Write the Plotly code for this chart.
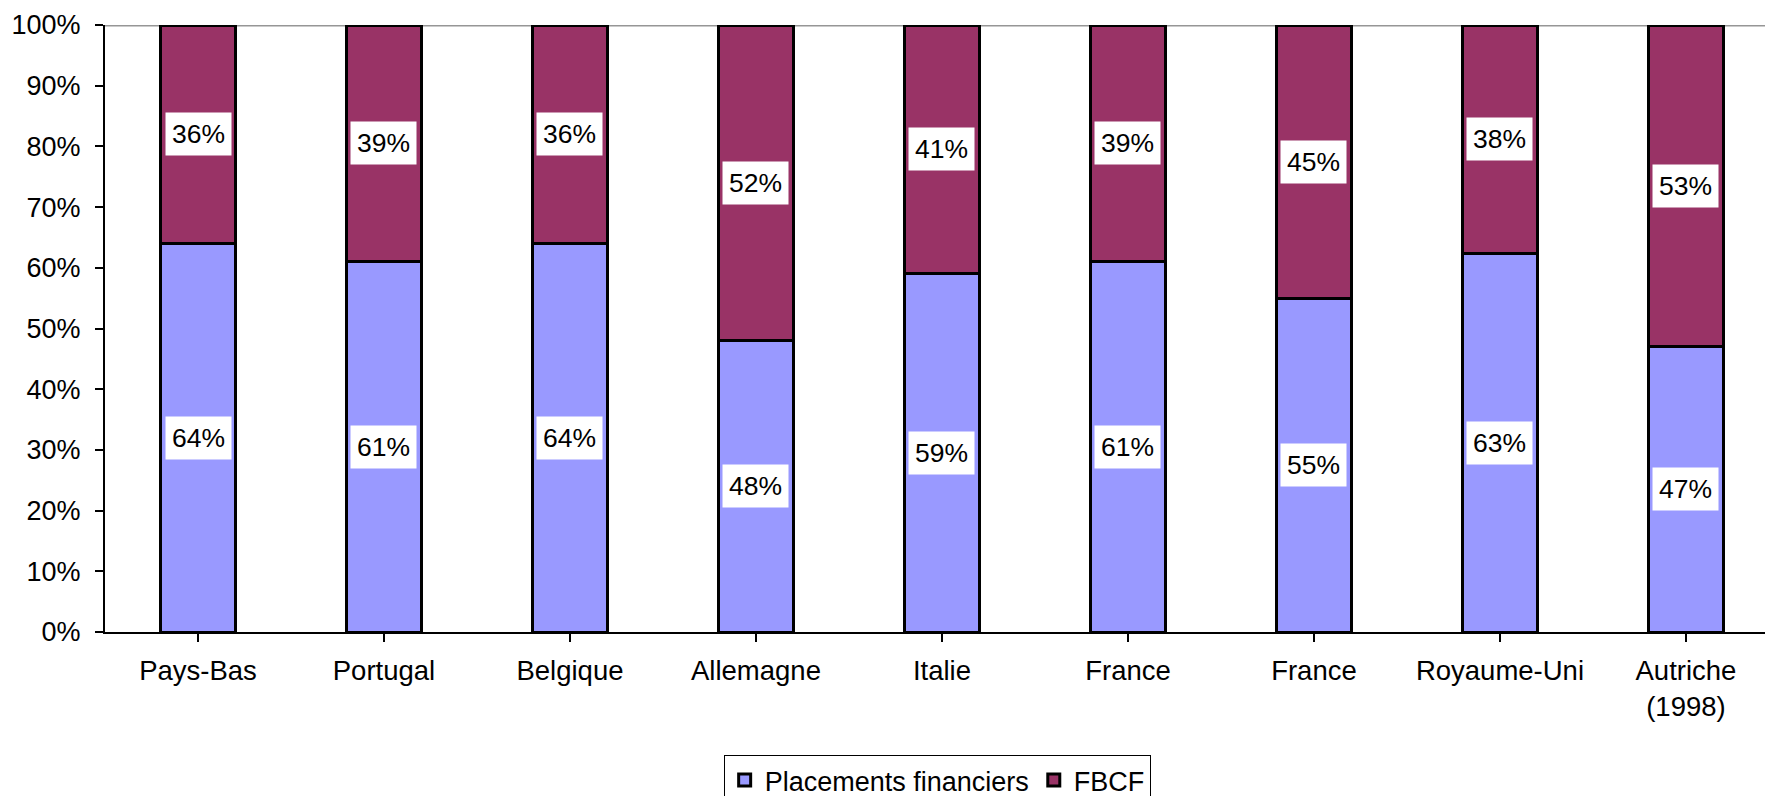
import plotly.graph_objects as go

# Share of financial investments vs. gross fixed capital formation (FBCF)
categories = ["Pays-Bas", "Portugal", "Belgique", "Allemagne", "Italie",
              "France", "France", "Royaume-Uni", "Autriche<br>(1998)"]
placements = [64, 61, 64, 48, 59, 61, 55, 63, 47]
fbcf = [36, 39, 36, 52, 41, 39, 45, 38, 53]
y_ticks = [0, 10, 20, 30, 40, 50, 60, 70, 80, 90, 100]
y_tick_labels = ["0%", "10%", "20%", "30%", "40%", "50%",
                 "60%", "70%", "80%", "90%", "100%"]

FONT = "Liberation Sans, Arial, sans-serif"
BLUE = "#9999FF"
PLUM = "#993366"

x_idx = list(range(len(categories)))

fig = go.Figure()
fig.add_trace(go.Bar(
    x=x_idx, y=placements, name="Placements financiers",
    marker=dict(color=BLUE, line=dict(color="black", width=3)),
    width=0.405,
))
fig.add_trace(go.Bar(
    x=x_idx, y=fbcf, name="FBCF",
    marker=dict(color=PLUM, line=dict(color="black", width=3)),
    width=0.405,
))

# Value labels in white boxes, centred on each normalised segment
annotations = []
for i, (p, f) in enumerate(zip(placements, fbcf)):
    total = p + f
    p_n = p / total * 100
    f_n = f / total * 100
    for val, mid in ((p, p_n / 2), (f, p_n + f_n / 2)):
        annotations.append(dict(
            x=i, y=mid, xref="x", yref="y", text=f"{val}%",
            showarrow=False, bgcolor="white", borderpad=6,
            font=dict(family=FONT, size=26.5, color="black"),
        ))

fig.update_layout(
    barmode="stack",
    barnorm="percent",
    width=1765, height=796,
    margin=dict(l=105, r=0, t=25, b=164, autoexpand=False),
    paper_bgcolor="white", plot_bgcolor="white",
    font=dict(family=FONT, size=27, color="black"),
    annotations=annotations,
    shapes=[dict(type="line", xref="paper", yref="y", x0=0, x1=1, y0=100, y1=100,
                 line=dict(color="#969696", width=3), layer="below")],
    legend=dict(
        orientation="h", x=0.5013, xanchor="center", y=-0.2026, yanchor="top",
        bordercolor="black", borderwidth=1, bgcolor="white",
        font=dict(family=FONT, size=27, color="black"),
        traceorder="normal",
    ),
    xaxis=dict(
        range=[-0.5, 8.425],
        tickmode="array", tickvals=x_idx, ticktext=categories,
        tickson="boundaries", ticks="outside", ticklen=8, tickwidth=2,
        tickcolor="black", showline=True, linecolor="black", linewidth=2,
        showgrid=False, zeroline=False, ticklabelstandoff=5,
        tickfont=dict(family=FONT, size=27.5, color="black"),
    ),
    yaxis=dict(
        range=[0, 100], tickmode="array", tickvals=y_ticks, ticktext=y_tick_labels,
        ticks="outside", ticklen=8, tickwidth=2, tickcolor="black",
        showline=True, linecolor="black", linewidth=2,
        showgrid=False, zeroline=False, ticklabelstandoff=9,
        tickfont=dict(family=FONT, size=27, color="black"),
    ),
)

fig.write_html("out.html")
